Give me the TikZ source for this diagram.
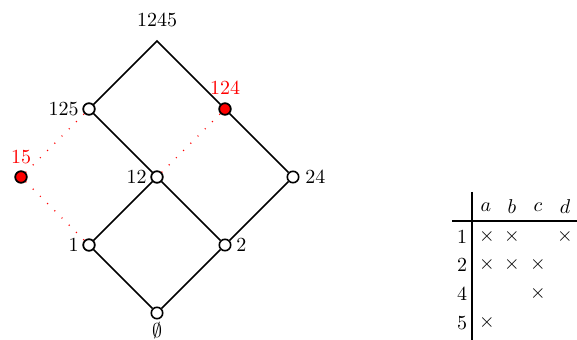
\documentclass[tikz,border=0pt]{standalone}
\usetikzlibrary{calc}
\definecolor{redc}{RGB}{255,0,0}
\begin{document}
\begin{tikzpicture}[x=0.5pt,y=-0.5pt,
  vtx/.style={circle,draw=black,line width=0.8pt,fill=white,minimum size=5.7pt,inner sep=0pt},
  rvtx/.style={vtx,fill=redc},
  edge/.style={line width=0.8pt},
  redge/.style={redc,line width=0.7pt,dash pattern=on 0.5pt off 4.6pt},
  lbl/.style={inner sep=0pt,font=\normalsize},
  rlbl/.style={lbl,text=redc}]
\useasboundingbox (0,0) rectangle (577,340);
% lattice vertices
\coordinate (top) at (157,41);
\node[vtx] (n125) at (89,109) {};
\node[rvtx] (n124) at (225,109) {};
\node[vtx] (n12) at (157,177) {};
\node[vtx] (n24) at (293,177) {};
\node[rvtx] (n15) at (21,177) {};
\node[vtx] (n1) at (89,245) {};
\node[vtx] (n2) at (225,245) {};
\node[vtx] (n0) at (157,313) {};
% edges
\draw[edge] (n125) -- (top) -- (n124);
\draw[edge] (n125) -- (n12);
\draw[edge] (n124) -- (n24);
\draw[edge] (n12) -- (n1);
\draw[edge] (n12) -- (n2);
\draw[edge] (n24) -- (n2);
\draw[edge] (n1) -- (n0);
\draw[edge] (n2) -- (n0);
\draw[redge] (n15) -- (n125);
\draw[redge] (n15) -- (n1);
\draw[redge] (n12) -- (n124);
% redraw vertices on top
\node[vtx] at (n125) {};
\node[rvtx] at (n124) {};
\node[vtx] at (n12) {};
\node[rvtx] at (n15) {};
\node[vtx] at (n1) {};
% labels
\node[lbl] (l1245) at (157,20) {1245};
\node[lbl,anchor=east] (l125) at (79,109) {125};
\node[rlbl] (l124) at (225,88) {124};
\node[rlbl] (l15) at (21,157) {15};
\node[lbl,anchor=east] (l12) at (147,177) {12};
\node[lbl,anchor=west] (l24) at (305,177) {24};
\node[lbl,anchor=east] (l1) at (79,245) {1};
\node[lbl,anchor=west] (l2) at (236,245) {2};
\node[lbl] (l0) at (157,331) {$\emptyset$};
% table
\coordinate (vt) at (472,192);
\coordinate (vb) at (472,340);
\coordinate (hl) at (452,221);
\coordinate (hr) at (577,221);
\draw[line width=0.8pt] (vt) -- (vb);
\draw[line width=0.6pt] (hl) -- (hr);
\node[lbl] (ha) at (486,207) {$a$};
\node[lbl] (hb) at (512,207) {$b$};
\node[lbl] (hc) at (538,207) {$c$};
\node[lbl] (hd) at (565,207) {$d$};
\node[lbl] (r1) at (462,237) {1};
\node[lbl] (r2) at (462,265) {2};
\node[lbl] (r4) at (462,294) {4};
\node[lbl] (r5) at (462,323) {5};
\node[lbl] (x1a) at (487,237) {$\times$};
\node[lbl] (x1b) at (512,237) {$\times$};
\node[lbl] (x1d) at (565,237) {$\times$};
\node[lbl] (x2a) at (487,265) {$\times$};
\node[lbl] (x2b) at (512,265) {$\times$};
\node[lbl] (x2c) at (538,265) {$\times$};
\node[lbl] (x4c) at (538,294) {$\times$};
\node[lbl] (x5a) at (487,323) {$\times$};
\end{tikzpicture}
\end{document}
